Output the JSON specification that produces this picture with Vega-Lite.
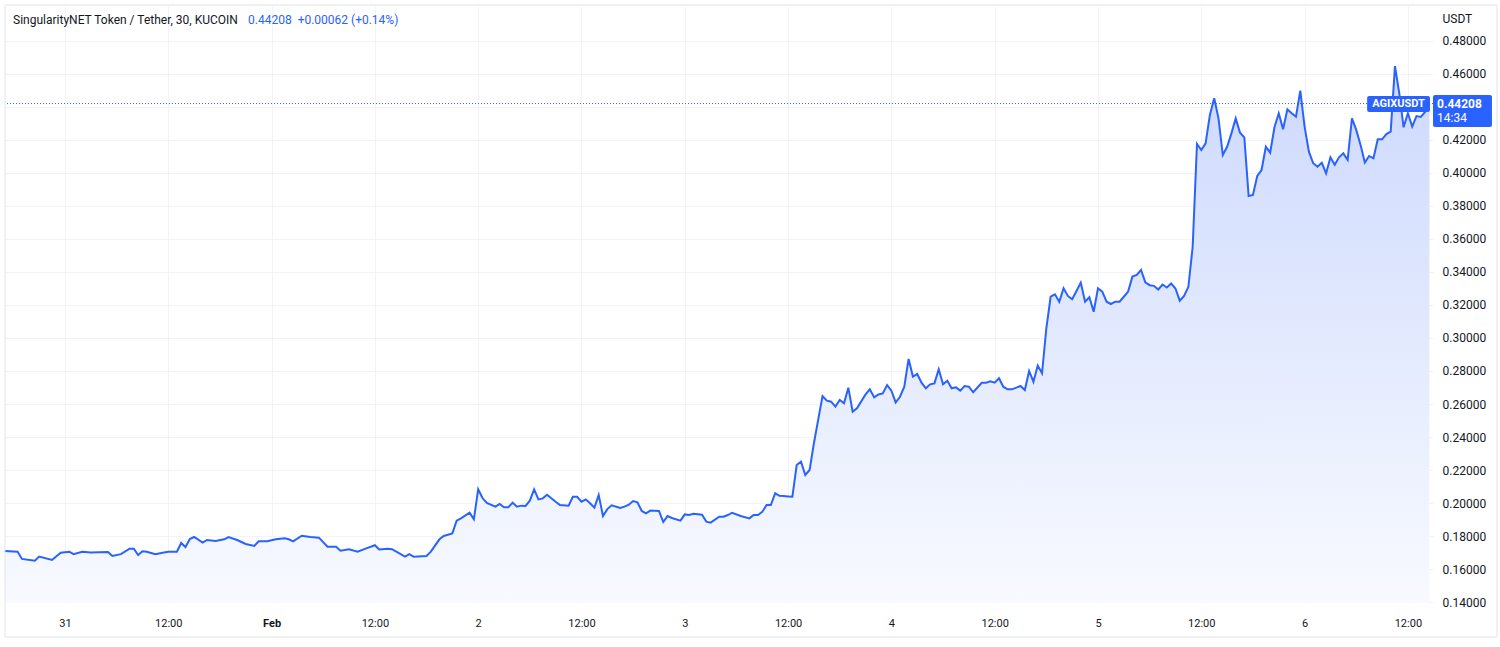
{
"$schema": "https://vega.github.io/schema/vega-lite/v6.json",
"width": 1428, "height": 597,
"autosize": {"type": "none"},
"padding": {"left": 5, "top": 6, "right": 67, "bottom": 44},
"background": "#ffffff",
"config": {"view": {"stroke": null}, "font": "Roboto",
  "axis": {"labelOverlap": false, "labelFlush": false, "domain": false, "ticks": false, "tickSize": 0, "grid": true, "gridColor": "#f0f3fa", "gridWidth": 1, "labelColor": "#131722", "labelFont": "Roboto"},
  "axisX": {"labelPadding": 14, "labelFontSize": 11},
  "axisY": {"labelPadding": 9, "labelFontSize": 12}},
"data": {"values": [
{"ann":"frame"},{"ann":"last"},{"ann":"symbox"},{"ann":"pricebox"},
{"ann":"sym","label":"AGIXUSDT"},{"ann":"price","label":"0.44208"},{"ann":"timer","label":"14:34"},
{"ann":"title","label":"SingularityNET Token / Tether, 30, KUCOIN"},{"ann":"quote","label":"0.44208\u00a0 +0.00062 (+0.14%)"},
{"t":"2023-01-30T17:00","v":0.1709},{"t":"2023-01-30T18:30","v":0.1705},{"t":"2023-01-30T19:00","v":0.1661},{"t":"2023-01-30T20:30","v":0.1650},{"t":"2023-01-30T21:00","v":0.1675},{"t":"2023-01-30T22:30","v":0.1655},{"t":"2023-01-30T23:30","v":0.1699},
{"t":"2023-01-31T00:30","v":0.1705},{"t":"2023-01-31T01:00","v":0.1690},{"t":"2023-01-31T02:00","v":0.1705},{"t":"2023-01-31T03:00","v":0.1700},{"t":"2023-01-31T05:00","v":0.1703},{"t":"2023-01-31T05:30","v":0.1679},{"t":"2023-01-31T06:30","v":0.1690},{"t":"2023-01-31T07:30","v":0.1723},{"t":"2023-01-31T08:00","v":0.1723},{"t":"2023-01-31T08:30","v":0.1685},{"t":"2023-01-31T09:00","v":0.1707},{"t":"2023-01-31T09:30","v":0.1705},{"t":"2023-01-31T10:30","v":0.1690},{"t":"2023-01-31T11:30","v":0.1700},{"t":"2023-01-31T12:00","v":0.1705},{"t":"2023-01-31T13:00","v":0.1705},{"t":"2023-01-31T13:30","v":0.1758},{"t":"2023-01-31T14:00","v":0.1733},{"t":"2023-01-31T14:30","v":0.1782},{"t":"2023-01-31T15:00","v":0.1794},{"t":"2023-01-31T16:00","v":0.1760},{"t":"2023-01-31T16:30","v":0.1776},{"t":"2023-01-31T17:30","v":0.1770},{"t":"2023-01-31T18:30","v":0.1780},{"t":"2023-01-31T19:00","v":0.1794},{"t":"2023-01-31T20:00","v":0.1776},{"t":"2023-01-31T21:00","v":0.1752},{"t":"2023-01-31T22:00","v":0.1740},{"t":"2023-01-31T22:30","v":0.1768},{"t":"2023-01-31T23:30","v":0.1768},
{"t":"2023-02-01T00:30","v":0.1780},{"t":"2023-02-01T01:30","v":0.1786},{"t":"2023-02-01T02:00","v":0.1780},{"t":"2023-02-01T02:30","v":0.1768},{"t":"2023-02-01T03:30","v":0.1802},{"t":"2023-02-01T04:30","v":0.1794},{"t":"2023-02-01T05:30","v":0.1790},{"t":"2023-02-01T06:30","v":0.1735},{"t":"2023-02-01T07:30","v":0.1735},{"t":"2023-02-01T08:00","v":0.1711},{"t":"2023-02-01T09:00","v":0.1719},{"t":"2023-02-01T10:00","v":0.1705},{"t":"2023-02-01T11:00","v":0.1725},{"t":"2023-02-01T12:00","v":0.1744},{"t":"2023-02-01T12:30","v":0.1718},{"t":"2023-02-01T13:30","v":0.1723},{"t":"2023-02-01T14:00","v":0.1720},{"t":"2023-02-01T15:30","v":0.1675},{"t":"2023-02-01T16:00","v":0.1690},{"t":"2023-02-01T16:30","v":0.1675},{"t":"2023-02-01T18:00","v":0.1679},{"t":"2023-02-01T18:30","v":0.1705},{"t":"2023-02-01T19:30","v":0.1780},{"t":"2023-02-01T20:00","v":0.1800},{"t":"2023-02-01T21:00","v":0.1816},{"t":"2023-02-01T21:30","v":0.1893},{"t":"2023-02-01T22:00","v":0.1907},{"t":"2023-02-01T23:00","v":0.1941},{"t":"2023-02-01T23:30","v":0.1901},
{"t":"2023-02-02T00:00","v":0.2083},{"t":"2023-02-02T00:30","v":0.2030},{"t":"2023-02-02T01:00","v":0.2000},{"t":"2023-02-02T02:00","v":0.1978},{"t":"2023-02-02T02:30","v":0.1994},{"t":"2023-02-02T03:00","v":0.1974},{"t":"2023-02-02T03:30","v":0.1974},{"t":"2023-02-02T04:00","v":0.2002},{"t":"2023-02-02T04:30","v":0.1978},{"t":"2023-02-02T05:00","v":0.1984},{"t":"2023-02-02T05:30","v":0.1982},{"t":"2023-02-02T06:00","v":0.2014},{"t":"2023-02-02T06:30","v":0.2083},{"t":"2023-02-02T07:00","v":0.2022},{"t":"2023-02-02T07:30","v":0.2028},{"t":"2023-02-02T08:00","v":0.2050},{"t":"2023-02-02T09:00","v":0.2008},{"t":"2023-02-02T09:30","v":0.1988},{"t":"2023-02-02T10:30","v":0.1984},{"t":"2023-02-02T11:00","v":0.2038},{"t":"2023-02-02T11:30","v":0.2038},{"t":"2023-02-02T12:00","v":0.2008},{"t":"2023-02-02T12:30","v":0.2022},{"t":"2023-02-02T13:00","v":0.1998},{"t":"2023-02-02T13:30","v":0.1972},{"t":"2023-02-02T14:00","v":0.2048},{"t":"2023-02-02T14:30","v":0.1921},{"t":"2023-02-02T15:00","v":0.1963},{"t":"2023-02-02T15:30","v":0.1986},{"t":"2023-02-02T16:30","v":0.1970},{"t":"2023-02-02T17:00","v":0.1978},{"t":"2023-02-02T17:30","v":0.1990},{"t":"2023-02-02T18:00","v":0.2012},{"t":"2023-02-02T18:30","v":0.2004},{"t":"2023-02-02T19:00","v":0.1952},{"t":"2023-02-02T19:30","v":0.1937},{"t":"2023-02-02T20:00","v":0.1954},{"t":"2023-02-02T21:00","v":0.1952},{"t":"2023-02-02T21:30","v":0.1885},{"t":"2023-02-02T22:00","v":0.1921},{"t":"2023-02-02T22:30","v":0.1909},{"t":"2023-02-02T23:30","v":0.1893},
{"t":"2023-02-03T00:00","v":0.1931},{"t":"2023-02-03T00:30","v":0.1927},{"t":"2023-02-03T01:00","v":0.1935},{"t":"2023-02-03T02:00","v":0.1929},{"t":"2023-02-03T02:30","v":0.1887},{"t":"2023-02-03T03:00","v":0.1881},{"t":"2023-02-03T04:00","v":0.1917},{"t":"2023-02-03T04:30","v":0.1917},{"t":"2023-02-03T05:00","v":0.1927},{"t":"2023-02-03T05:30","v":0.1941},{"t":"2023-02-03T06:30","v":0.1921},{"t":"2023-02-03T07:30","v":0.1907},{"t":"2023-02-03T08:00","v":0.1927},{"t":"2023-02-03T08:30","v":0.1927},{"t":"2023-02-03T09:00","v":0.1946},{"t":"2023-02-03T09:30","v":0.1988},{"t":"2023-02-03T10:00","v":0.1988},{"t":"2023-02-03T10:30","v":0.2059},{"t":"2023-02-03T11:00","v":0.2044},{"t":"2023-02-03T11:30","v":0.2042},{"t":"2023-02-03T12:00","v":0.2040},{"t":"2023-02-03T12:30","v":0.2038},{"t":"2023-02-03T13:00","v":0.2230},{"t":"2023-02-03T13:30","v":0.2250},{"t":"2023-02-03T14:00","v":0.2170},{"t":"2023-02-03T14:30","v":0.2200},{"t":"2023-02-03T15:00","v":0.2362},{"t":"2023-02-03T15:30","v":0.2505},{"t":"2023-02-03T16:00","v":0.2648},{"t":"2023-02-03T16:30","v":0.2620},{"t":"2023-02-03T17:00","v":0.2614},{"t":"2023-02-03T17:30","v":0.2584},{"t":"2023-02-03T18:00","v":0.2624},{"t":"2023-02-03T18:30","v":0.2604},{"t":"2023-02-03T19:00","v":0.2699},{"t":"2023-02-03T19:30","v":0.2554},{"t":"2023-02-03T20:00","v":0.2574},{"t":"2023-02-03T21:00","v":0.2658},{"t":"2023-02-03T21:30","v":0.2689},{"t":"2023-02-03T22:00","v":0.2640},{"t":"2023-02-03T22:30","v":0.2658},{"t":"2023-02-03T23:00","v":0.2664},{"t":"2023-02-03T23:30","v":0.2715},
{"t":"2023-02-04T00:00","v":0.2681},{"t":"2023-02-04T00:30","v":0.2610},{"t":"2023-02-04T01:00","v":0.2644},{"t":"2023-02-04T01:30","v":0.2705},{"t":"2023-02-04T02:00","v":0.2873},{"t":"2023-02-04T02:30","v":0.2766},{"t":"2023-02-04T03:00","v":0.2782},{"t":"2023-02-04T03:30","v":0.2729},{"t":"2023-02-04T04:00","v":0.2695},{"t":"2023-02-04T04:30","v":0.2719},{"t":"2023-02-04T05:00","v":0.2725},{"t":"2023-02-04T05:30","v":0.2810},{"t":"2023-02-04T06:00","v":0.2719},{"t":"2023-02-04T06:30","v":0.2741},{"t":"2023-02-04T07:00","v":0.2695},{"t":"2023-02-04T07:30","v":0.2701},{"t":"2023-02-04T08:00","v":0.2681},{"t":"2023-02-04T08:30","v":0.2709},{"t":"2023-02-04T09:00","v":0.2705},{"t":"2023-02-04T09:30","v":0.2671},{"t":"2023-02-04T10:00","v":0.2700},{"t":"2023-02-04T10:30","v":0.2729},{"t":"2023-02-04T11:00","v":0.2729},{"t":"2023-02-04T11:30","v":0.2737},{"t":"2023-02-04T12:00","v":0.2729},{"t":"2023-02-04T12:30","v":0.2756},{"t":"2023-02-04T13:00","v":0.2705},{"t":"2023-02-04T13:30","v":0.2689},{"t":"2023-02-04T14:00","v":0.2689},{"t":"2023-02-04T15:00","v":0.2709},{"t":"2023-02-04T15:30","v":0.2685},{"t":"2023-02-04T16:00","v":0.2800},{"t":"2023-02-04T16:30","v":0.2735},{"t":"2023-02-04T17:00","v":0.2833},{"t":"2023-02-04T17:30","v":0.2786},{"t":"2023-02-04T18:00","v":0.3059},{"t":"2023-02-04T18:30","v":0.3250},{"t":"2023-02-04T19:00","v":0.3265},{"t":"2023-02-04T19:30","v":0.3220},{"t":"2023-02-04T20:00","v":0.3301},{"t":"2023-02-04T20:30","v":0.3255},{"t":"2023-02-04T21:00","v":0.3235},{"t":"2023-02-04T21:30","v":0.3285},{"t":"2023-02-04T22:00","v":0.3336},{"t":"2023-02-04T22:30","v":0.3220},{"t":"2023-02-04T23:00","v":0.3247},{"t":"2023-02-04T23:30","v":0.3159},
{"t":"2023-02-05T00:00","v":0.3301},{"t":"2023-02-05T00:30","v":0.3281},{"t":"2023-02-05T01:00","v":0.3220},{"t":"2023-02-05T01:30","v":0.3206},{"t":"2023-02-05T02:00","v":0.3220},{"t":"2023-02-05T02:30","v":0.3220},{"t":"2023-02-05T03:00","v":0.3250},{"t":"2023-02-05T03:30","v":0.3281},{"t":"2023-02-05T04:00","v":0.3372},{"t":"2023-02-05T04:30","v":0.3382},{"t":"2023-02-05T05:00","v":0.3412},{"t":"2023-02-05T05:30","v":0.3337},{"t":"2023-02-05T06:00","v":0.3320},{"t":"2023-02-05T06:30","v":0.3316},{"t":"2023-02-05T07:00","v":0.3294},{"t":"2023-02-05T07:30","v":0.3324},{"t":"2023-02-05T08:00","v":0.3306},{"t":"2023-02-05T08:30","v":0.3330},{"t":"2023-02-05T09:00","v":0.3300},{"t":"2023-02-05T09:30","v":0.3226},{"t":"2023-02-05T10:00","v":0.3255},{"t":"2023-02-05T10:30","v":0.3310},{"t":"2023-02-05T11:00","v":0.3553},{"t":"2023-02-05T11:30","v":0.4176},{"t":"2023-02-05T12:00","v":0.4139},{"t":"2023-02-05T12:30","v":0.4180},{"t":"2023-02-05T13:00","v":0.4352},{"t":"2023-02-05T13:30","v":0.4453},{"t":"2023-02-05T14:00","v":0.4331},{"t":"2023-02-05T14:30","v":0.4109},{"t":"2023-02-05T15:00","v":0.4159},{"t":"2023-02-05T15:30","v":0.4240},{"t":"2023-02-05T16:00","v":0.4331},{"t":"2023-02-05T16:30","v":0.4244},{"t":"2023-02-05T17:00","v":0.4216},{"t":"2023-02-05T17:30","v":0.3861},{"t":"2023-02-05T18:00","v":0.3867},{"t":"2023-02-05T18:30","v":0.3982},{"t":"2023-02-05T19:00","v":0.4018},{"t":"2023-02-05T19:30","v":0.4159},{"t":"2023-02-05T20:00","v":0.4123},{"t":"2023-02-05T20:30","v":0.4277},{"t":"2023-02-05T21:00","v":0.4362},{"t":"2023-02-05T21:30","v":0.4265},{"t":"2023-02-05T22:00","v":0.4386},{"t":"2023-02-05T22:30","v":0.4362},{"t":"2023-02-05T23:00","v":0.4341},{"t":"2023-02-05T23:30","v":0.4499},
{"t":"2023-02-06T00:00","v":0.4281},{"t":"2023-02-06T00:30","v":0.4129},{"t":"2023-02-06T01:00","v":0.4059},{"t":"2023-02-06T01:30","v":0.4038},{"t":"2023-02-06T02:00","v":0.4062},{"t":"2023-02-06T02:30","v":0.3998},{"t":"2023-02-06T03:00","v":0.4095},{"t":"2023-02-06T03:30","v":0.4050},{"t":"2023-02-06T04:00","v":0.4095},{"t":"2023-02-06T04:30","v":0.4119},{"t":"2023-02-06T05:00","v":0.4079},{"t":"2023-02-06T05:30","v":0.4331},{"t":"2023-02-06T06:00","v":0.4261},{"t":"2023-02-06T06:30","v":0.4170},{"t":"2023-02-06T07:00","v":0.4063},{"t":"2023-02-06T07:30","v":0.4103},{"t":"2023-02-06T08:00","v":0.4089},{"t":"2023-02-06T08:30","v":0.4204},{"t":"2023-02-06T09:00","v":0.4204},{"t":"2023-02-06T09:30","v":0.4236},{"t":"2023-02-06T10:00","v":0.4250},{"t":"2023-02-06T10:30","v":0.4648},{"t":"2023-02-06T11:00","v":0.4483},{"t":"2023-02-06T11:30","v":0.4277},{"t":"2023-02-06T12:00","v":0.4362},{"t":"2023-02-06T12:30","v":0.4281},{"t":"2023-02-06T13:00","v":0.4345},{"t":"2023-02-06T13:30","v":0.4340},{"t":"2023-02-06T14:00","v":0.4370},{"t":"2023-02-06T14:30","v":0.44208}
]},
"layer": [
  {"transform": [{"filter": "datum.ann == null"}],
   "mark": {"type": "area", "clip": true, "interpolate": "linear",
     "color": {"gradient": "linear", "x1": 0, "y1": 0, "x2": 0, "y2": 1,
       "stops": [{"offset": 0, "color": "#cdd9fd"}, {"offset": 1, "color": "#f8faff"}]}},
   "encoding": {
     "x": {"field": "t", "type": "temporal",
       "scale": {"domain": [{"year":2023,"month":1,"date":30,"hours":17,"minutes":2},{"year":2023,"month":2,"date":6,"hours":14,"minutes":55}]},
       "axis": {"title": null,
         "values": [{"year":2023,"month":1,"date":31},{"year":2023,"month":1,"date":31,"hours":12},{"year":2023,"month":2,"date":1},{"year":2023,"month":2,"date":1,"hours":12},{"year":2023,"month":2,"date":2},{"year":2023,"month":2,"date":2,"hours":12},{"year":2023,"month":2,"date":3},{"year":2023,"month":2,"date":3,"hours":12},{"year":2023,"month":2,"date":4},{"year":2023,"month":2,"date":4,"hours":12},{"year":2023,"month":2,"date":5},{"year":2023,"month":2,"date":5,"hours":12},{"year":2023,"month":2,"date":6},{"year":2023,"month":2,"date":6,"hours":12}],
         "labelExpr": "hours(datum.value) == 12 ? '12:00' : (date(datum.value) == 1 ? 'Feb' : '' + date(datum.value))",
         "labelFontWeight": {"condition": {"test": "date(datum.value) == 1 && hours(datum.value) == 0", "value": "bold"}, "value": "normal"}}},
     "y": {"field": "v", "type": "quantitative",
       "scale": {"domain": [0.1394, 0.5012], "zero": false, "nice": false},
       "axis": {"orient": "right", "title": "USDT", "titleAngle": 0, "titleAlign": "left", "titleBaseline": "middle", "titleX": 9, "titleY": 12, "titleFontSize": 12, "titleFontWeight": "normal", "titleColor": "#131722", "titleFont": "Roboto", "values": [0.14,0.16,0.18,0.2,0.22,0.24,0.26,0.28,0.3,0.32,0.34,0.36,0.38,0.4,0.42,0.44,0.46,0.48], "format": ".5f", "labelExpr": "abs(datum.value - 0.44) < 0.001 ? '' : datum.label"}},
     "y2": {"datum": 0.1394}}},
  {"transform": [{"filter": "datum.ann == null"}],
   "mark": {"type": "line", "color": "#2962ff", "strokeWidth": 2, "interpolate": "linear"},
   "encoding": {
     "x": {"field": "t", "type": "temporal"},
     "y": {"field": "v", "type": "quantitative",
       "axis": {"orient": "right", "title": "USDT", "titleAngle": 0, "titleAlign": "left", "titleBaseline": "middle", "titleX": 9, "titleY": 12, "titleFontSize": 12, "titleFontWeight": "normal", "titleColor": "#131722", "titleFont": "Roboto", "values": [0.14,0.16,0.18,0.2,0.22,0.24,0.26,0.28,0.3,0.32,0.34,0.36,0.38,0.4,0.42,0.44,0.46,0.48], "format": ".5f", "labelExpr": "abs(datum.value - 0.44) < 0.001 ? '' : datum.label"}}}},
  {"transform": [{"filter": "datum.ann == 'frame'"}],
   "mark": {"type": "rect", "fill": null, "stroke": "#e0e3eb", "strokeWidth": 1},
   "encoding": {
     "x": {"datum": {"year":2023,"month":1,"date":30,"hours":17,"minutes":2}, "type": "temporal"},
     "x2": {"datum": {"year":2023,"month":2,"date":6,"hours":22,"minutes":21}},
     "y": {"datum": 0.5018, "type": "quantitative",
       "axis": {"orient": "right", "title": "USDT", "titleAngle": 0, "titleAlign": "left", "titleBaseline": "middle", "titleX": 9, "titleY": 12, "titleFontSize": 12, "titleFontWeight": "normal", "titleColor": "#131722", "titleFont": "Roboto", "values": [0.14,0.16,0.18,0.2,0.22,0.24,0.26,0.28,0.3,0.32,0.34,0.36,0.38,0.4,0.42,0.44,0.46,0.48], "format": ".5f", "labelExpr": "abs(datum.value - 0.44) < 0.001 ? '' : datum.label"}},
     "y2": {"datum": 0.1188}}},
  {"transform": [{"filter": "datum.ann == 'last'"}],
   "mark": {"type": "rule", "color": "#2962ff", "strokeWidth": 1, "strokeDash": [1, 2]},
   "encoding": {"y": {"datum": 0.44208, "type": "quantitative",
       "axis": {"orient": "right", "title": "USDT", "titleAngle": 0, "titleAlign": "left", "titleBaseline": "middle", "titleX": 9, "titleY": 12, "titleFontSize": 12, "titleFontWeight": "normal", "titleColor": "#131722", "titleFont": "Roboto", "values": [0.14,0.16,0.18,0.2,0.22,0.24,0.26,0.28,0.3,0.32,0.34,0.36,0.38,0.4,0.42,0.44,0.46,0.48], "format": ".5f", "labelExpr": "abs(datum.value - 0.44) < 0.001 ? '' : datum.label"}}}},
  {"transform": [{"filter": "datum.ann == 'symbox'"}],
   "mark": {"type": "rect", "fill": "#2962ff", "cornerRadius": 2},
   "encoding": {
     "x": {"datum": {"year":2023,"month":2,"date":6,"hours":7,"minutes":16}, "type": "temporal"},
     "x2": {"datum": {"year":2023,"month":2,"date":6,"hours":14,"minutes":34}},
     "y": {"datum": 0.4467, "type": "quantitative",
       "axis": {"orient": "right", "title": "USDT", "titleAngle": 0, "titleAlign": "left", "titleBaseline": "middle", "titleX": 9, "titleY": 12, "titleFontSize": 12, "titleFontWeight": "normal", "titleColor": "#131722", "titleFont": "Roboto", "values": [0.14,0.16,0.18,0.2,0.22,0.24,0.26,0.28,0.3,0.32,0.34,0.36,0.38,0.4,0.42,0.44,0.46,0.48], "format": ".5f", "labelExpr": "abs(datum.value - 0.44) < 0.001 ? '' : datum.label"}},
     "y2": {"datum": 0.4370}}},
  {"transform": [{"filter": "datum.ann == 'pricebox'"}],
   "mark": {"type": "rect", "fill": "#2962ff", "cornerRadius": 2},
   "encoding": {
     "x": {"datum": {"year":2023,"month":2,"date":6,"hours":14,"minutes":55}, "type": "temporal"},
     "x2": {"datum": {"year":2023,"month":2,"date":6,"hours":21,"minutes":46}},
     "y": {"datum": 0.4473, "type": "quantitative",
       "axis": {"orient": "right", "title": "USDT", "titleAngle": 0, "titleAlign": "left", "titleBaseline": "middle", "titleX": 9, "titleY": 12, "titleFontSize": 12, "titleFontWeight": "normal", "titleColor": "#131722", "titleFont": "Roboto", "values": [0.14,0.16,0.18,0.2,0.22,0.24,0.26,0.28,0.3,0.32,0.34,0.36,0.38,0.4,0.42,0.44,0.46,0.48], "format": ".5f", "labelExpr": "abs(datum.value - 0.44) < 0.001 ? '' : datum.label"}},
     "y2": {"datum": 0.4279}}},
  {"transform": [{"filter": "datum.ann == 'sym'"}],
   "mark": {"type": "text", "color": "#ffffff", "fontWeight": "bold", "fontSize": 11, "font": "Roboto", "align": "center", "baseline": "middle"},
   "encoding": {
     "x": {"datum": {"year":2023,"month":2,"date":6,"hours":10,"minutes":55}, "type": "temporal"},
     "y": {"datum": 0.44208, "type": "quantitative",
       "axis": {"orient": "right", "title": "USDT", "titleAngle": 0, "titleAlign": "left", "titleBaseline": "middle", "titleX": 9, "titleY": 12, "titleFontSize": 12, "titleFontWeight": "normal", "titleColor": "#131722", "titleFont": "Roboto", "values": [0.14,0.16,0.18,0.2,0.22,0.24,0.26,0.28,0.3,0.32,0.34,0.36,0.38,0.4,0.42,0.44,0.46,0.48], "format": ".5f", "labelExpr": "abs(datum.value - 0.44) < 0.001 ? '' : datum.label"}},
     "text": {"field": "label"}}},
  {"transform": [{"filter": "datum.ann == 'price'"}],
   "mark": {"type": "text", "color": "#ffffff", "fontWeight": "bold", "fontSize": 12, "font": "Roboto", "align": "left", "baseline": "middle"},
   "encoding": {
     "x": {"datum": {"year":2023,"month":2,"date":6,"hours":15,"minutes":23}, "type": "temporal"},
     "y": {"datum": 0.44208, "type": "quantitative",
       "axis": {"orient": "right", "title": "USDT", "titleAngle": 0, "titleAlign": "left", "titleBaseline": "middle", "titleX": 9, "titleY": 12, "titleFontSize": 12, "titleFontWeight": "normal", "titleColor": "#131722", "titleFont": "Roboto", "values": [0.14,0.16,0.18,0.2,0.22,0.24,0.26,0.28,0.3,0.32,0.34,0.36,0.38,0.4,0.42,0.44,0.46,0.48], "format": ".5f", "labelExpr": "abs(datum.value - 0.44) < 0.001 ? '' : datum.label"}},
     "text": {"field": "label"}}},
  {"transform": [{"filter": "datum.ann == 'timer'"}],
   "mark": {"type": "text", "color": "#ffffff", "fontSize": 12, "font": "Roboto", "align": "left", "baseline": "middle"},
   "encoding": {
     "x": {"datum": {"year":2023,"month":2,"date":6,"hours":15,"minutes":23}, "type": "temporal"},
     "y": {"datum": 0.4333, "type": "quantitative",
       "axis": {"orient": "right", "title": "USDT", "titleAngle": 0, "titleAlign": "left", "titleBaseline": "middle", "titleX": 9, "titleY": 12, "titleFontSize": 12, "titleFontWeight": "normal", "titleColor": "#131722", "titleFont": "Roboto", "values": [0.14,0.16,0.18,0.2,0.22,0.24,0.26,0.28,0.3,0.32,0.34,0.36,0.38,0.4,0.42,0.44,0.46,0.48], "format": ".5f", "labelExpr": "abs(datum.value - 0.44) < 0.001 ? '' : datum.label"}},
     "text": {"field": "label"}}},
  {"transform": [{"filter": "datum.ann == 'title'"}],
   "mark": {"type": "text", "color": "#131722", "fontSize": 12, "font": "Roboto", "align": "left", "baseline": "middle"},
   "encoding": {
     "x": {"datum": {"year":2023,"month":1,"date":30,"hours":17,"minutes":58}, "type": "temporal"},
     "y": {"datum": 0.4927, "type": "quantitative",
       "axis": {"orient": "right", "title": "USDT", "titleAngle": 0, "titleAlign": "left", "titleBaseline": "middle", "titleX": 9, "titleY": 12, "titleFontSize": 12, "titleFontWeight": "normal", "titleColor": "#131722", "titleFont": "Roboto", "values": [0.14,0.16,0.18,0.2,0.22,0.24,0.26,0.28,0.3,0.32,0.34,0.36,0.38,0.4,0.42,0.44,0.46,0.48], "format": ".5f", "labelExpr": "abs(datum.value - 0.44) < 0.001 ? '' : datum.label"}},
     "text": {"field": "label"}}},
  {"transform": [{"filter": "datum.ann == 'quote'"}],
   "mark": {"type": "text", "color": "#2962ff", "fontSize": 12, "font": "Roboto", "align": "left", "baseline": "middle"},
   "encoding": {
     "x": {"datum": {"year":2023,"month":1,"date":31,"hours":21,"minutes":16}, "type": "temporal"},
     "y": {"datum": 0.4927, "type": "quantitative",
       "axis": {"orient": "right", "title": "USDT", "titleAngle": 0, "titleAlign": "left", "titleBaseline": "middle", "titleX": 9, "titleY": 12, "titleFontSize": 12, "titleFontWeight": "normal", "titleColor": "#131722", "titleFont": "Roboto", "values": [0.14,0.16,0.18,0.2,0.22,0.24,0.26,0.28,0.3,0.32,0.34,0.36,0.38,0.4,0.42,0.44,0.46,0.48], "format": ".5f", "labelExpr": "abs(datum.value - 0.44) < 0.001 ? '' : datum.label"}},
     "text": {"field": "label"}}}
]
}
